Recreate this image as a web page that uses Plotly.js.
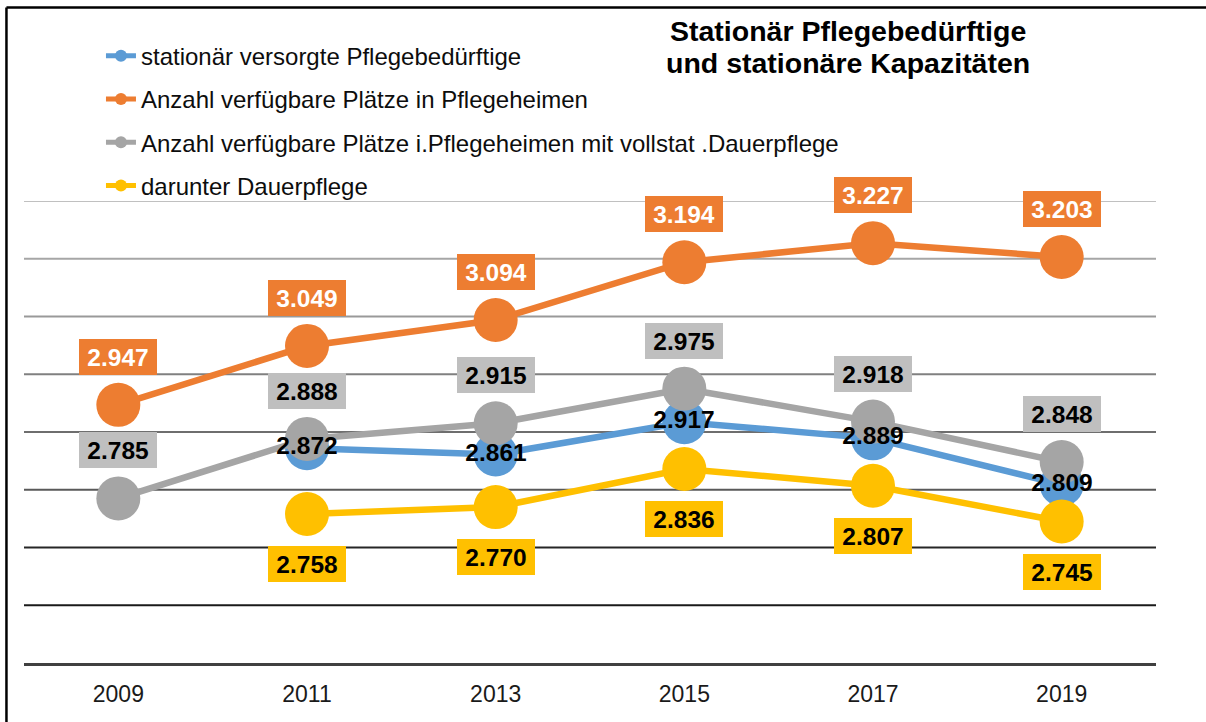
<!DOCTYPE html>
<html>
<head>
<meta charset="utf-8">
<script src="https://cdn.plot.ly/plotly-3.0.1.min.js"></script>
<style>
  html, body { margin: 0; padding: 0; background: #fff; overflow: hidden; }
  #chart { width: 1206px; height: 722px; }
</style>
</head>
<body>
<div id="chart"></div>
<script>
// ---- data ----
const years = ['2009', '2011', '2013', '2015', '2017', '2019'];
const versorgt = [null, 2.872, 2.861, 2.917, 2.889, 2.809];
const plaetze = [2.947, 3.049, 3.094, 3.194, 3.227, 3.203];
const plaetzeDauer = [2.785, 2.888, 2.915, 2.975, 2.918, 2.848];
const dauerpflege = [null, 2.758, 2.770, 2.836, 2.807, 2.745];

const seriesNames = [
  'stationär versorgte Pflegebedürftige',
  'Anzahl verfügbare Plätze in Pflegeheimen',
  'Anzahl verfügbare Plätze i.Pflegeheimen mit vollstat .Dauerpflege',
  'darunter Dauerpflege'
];
const titleLines = ['Stationär Pflegebedürftige', 'und stationäre Kapazitäten'];
const gridValues = [2.6, 2.7, 2.8, 2.9, 3.0, 3.1, 3.2, 3.3];

// ---- styles ----
const FONT = 'Liberation Sans, Arial, sans-serif';
const colors = ['#5B9BD5', '#ED7D31', '#A5A5A5', '#FFC000'];
const gridColors = ['#1a1a1a', '#262626', '#595959', '#6e6e6e', '#808080', '#999999', '#a6a6a6', '#c0c0c0'];
const labelStyles = [
  { bg: 'rgba(0,0,0,0)', fc: '#000000', shift: 3 },
  { bg: '#ED7D31', fc: '#ffffff', shift: 48 },
  { bg: '#BFBFBF', fc: '#000000', shift: 48 },
  { bg: '#FFC000', fc: '#000000', shift: -50 }
];
const allSeries = [versorgt, plaetze, plaetzeDauer, dauerpflege];

const traces = allSeries.map((vals, i) => ({
  type: 'scatter',
  mode: 'lines+markers',
  x: years,
  y: vals,
  name: seriesNames[i],
  legendgroup: 'g' + i,
  line: { color: colors[i], width: 6.5 },
  marker: { color: colors[i], size: 44 },
  connectgaps: false,
  hoverinfo: 'x+y'
}));

const annotations = [];
allSeries.forEach((vals, i) => {
  vals.forEach((v, j) => {
    if (v === null) return;
    annotations.push({
      x: j, y: v, xref: 'x', yref: 'y',
      text: '<b>' + v.toFixed(3) + '</b>',
      showarrow: false,
      yshift: labelStyles[i].shift,
      bgcolor: labelStyles[i].bg,
      borderwidth: 0,
      borderpad: 5,
      width: 68, height: 26,
      font: { family: FONT, size: 24.5, color: labelStyles[i].fc }
    });
  });
});
// chart title (two lines, each its own centred text)
const titleY = [1.3685, 1.2993];
titleLines.forEach((t, k) => {
  annotations.push({
    xref: 'paper', yref: 'paper',
    x: 0.728, xanchor: 'center',
    y: titleY[k], yanchor: 'middle',
    showarrow: false,
    text: '<b>' + t + '</b>',
    font: { family: FONT, size: 28.5, color: '#000' }
  });
});

const shapes = gridValues.map((g, k) => ({
  type: 'line', layer: 'below',
  xref: 'paper', x0: 0, x1: 1,
  yref: 'y', y0: g, y1: g,
  line: { color: gridColors[k], width: 2 }
}));
// outer frame (top and left edges visible)
shapes.push({ type: 'line', xref: 'paper', yref: 'paper', x0: -0.0155, x1: 1.1, y0: 1.419, y1: 1.419, line: { color: '#000', width: 2.5 } });
shapes.push({ type: 'line', xref: 'paper', yref: 'paper', x0: -0.0155, x1: -0.0155, y0: -0.2, y1: 1.419, line: { color: '#000', width: 2.5 } });

const layout = {
  width: 1206, height: 722,
  margin: { l: 24, r: 50, t: 201, b: 59 },
  paper_bgcolor: '#ffffff',
  plot_bgcolor: 'rgba(0,0,0,0)',
  font: { family: FONT, color: '#000' },
  showlegend: true,
  legend: {
    x: 0.068, xanchor: 'left',
    y: 1.362, yanchor: 'top',
    traceorder: 'grouped',
    tracegroupgap: 9,
    itemsizing: 'constant',
    font: { family: FONT, size: 24, color: '#0d0d0d' },
    bgcolor: 'rgba(0,0,0,0)'
  },
  xaxis: {
    type: 'category',
    range: [-0.5, 5.5],
    showgrid: false, zeroline: false,
    showline: true, linecolor: '#404040', linewidth: 3,
    ticks: 'outside', ticklen: 8, tickcolor: 'rgba(0,0,0,0)',
    tickfont: { family: FONT, size: 23, color: '#1a1a1a' },
    fixedrange: true
  },
  yaxis: {
    range: [2.5, 3.3],
    visible: false,
    showgrid: false, zeroline: false,
    fixedrange: true
  },
  shapes: shapes,
  annotations: annotations
};

Plotly.newPlot('chart', traces, layout, { displayModeBar: false, responsive: false });
</script>
</body>
</html>
